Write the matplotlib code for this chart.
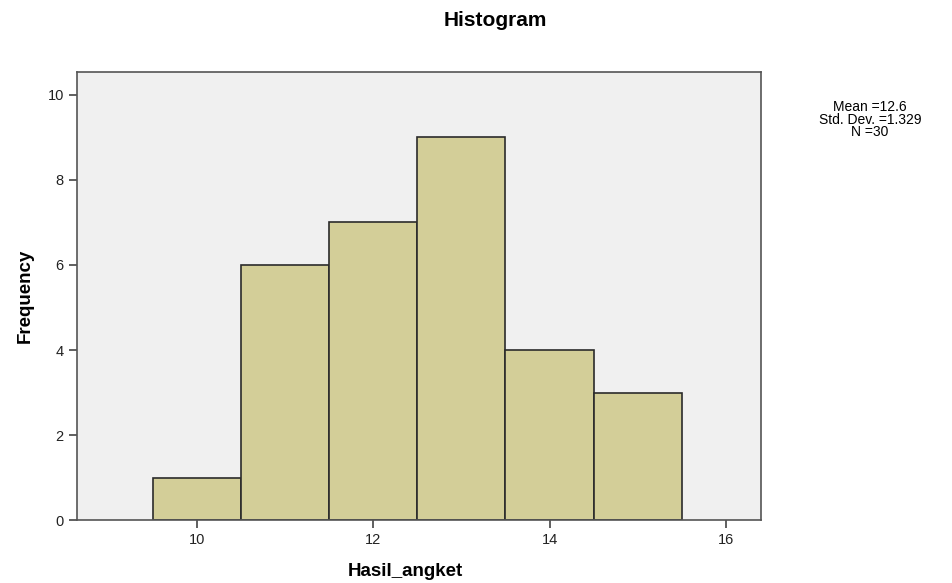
import matplotlib.pyplot as plt

plt.rcParams['font.family'] = ['Liberation Sans', 'DejaVu Sans']

bin_centers = [10, 11, 12, 13, 14, 15]
frequencies = [1, 6, 7, 9, 4, 3]
x_ticks = [10, 12, 14, 16]
y_ticks = [0, 2, 4, 6, 8, 10]
stats_text = 'Mean =12.6\nStd. Dev. =1.329\nN =30'

fig = plt.figure(figsize=(9.53, 5.83), dpi=100)
ax = fig.add_axes([0.0808, 0.108, 0.7177, 0.7685])
ax.set_facecolor('#f0f0f0')

ax.bar(bin_centers, frequencies, width=1.0, color='#d3ce98',
       edgecolor='#2b2b2b', linewidth=1.2, zorder=2)

ax.set_xlim(8.636, 16.4)
ax.set_ylim(0, 10.54)
ax.set_xticks(x_ticks)
ax.set_yticks(y_ticks)
ax.tick_params(direction='out', length=6, width=1.2, color='#444444',
               labelsize=10.5, labelcolor='#222222')
for s in ax.spines.values():
    s.set_color('#555555')
    s.set_linewidth(1.2)

ax.set_xlabel('Hasil_angket', fontsize=13.5, fontweight='bold')
ax.xaxis.set_label_coords(0.48, -0.095)
ax.set_ylabel('Frequency', fontsize=13.5, fontweight='bold', labelpad=10)
fig.text(0.52, 0.965, 'Histogram', ha='center', va='center',
         fontsize=15, fontweight='bold')
fig.text(0.913, 0.795, stats_text, ha='center', va='center',
         fontsize=10, linespacing=0.9)

fig.savefig('out.png', dpi=100)
